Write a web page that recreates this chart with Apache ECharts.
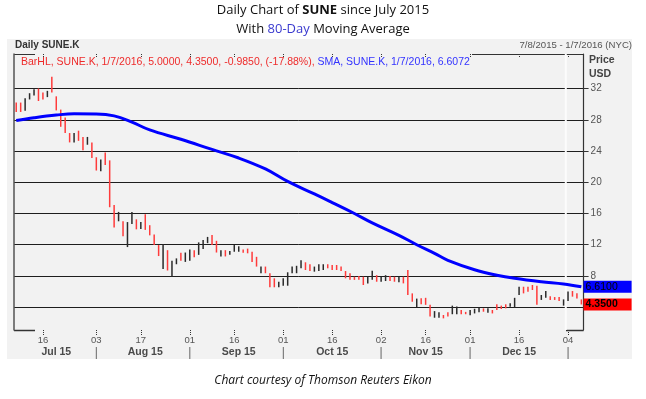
<!DOCTYPE html>
<html>
<head>
<meta charset="utf-8">
<script src="https://cdn.jsdelivr.net/npm/echarts@6/dist/echarts.min.js"></script>
<style>
  html, body { margin: 0; padding: 0; background: #fff; }
  #chart { width: 646px; height: 399px; }
</style>
</head>
<body>
<div id="chart"></div>
<script>
'use strict';

// trading days shown on the chart
var days = [
  '2015-07-08','2015-07-09','2015-07-10','2015-07-13','2015-07-14','2015-07-15','2015-07-16','2015-07-17','2015-07-20','2015-07-21',
  '2015-07-22','2015-07-23','2015-07-24','2015-07-27','2015-07-28','2015-07-29','2015-07-30','2015-07-31',
  '2015-08-03','2015-08-04','2015-08-05','2015-08-06','2015-08-07','2015-08-10','2015-08-11','2015-08-12','2015-08-13','2015-08-14',
  '2015-08-17','2015-08-18','2015-08-19','2015-08-20','2015-08-21','2015-08-24','2015-08-25','2015-08-26','2015-08-27','2015-08-28','2015-08-31',
  '2015-09-01','2015-09-02','2015-09-03','2015-09-04','2015-09-08','2015-09-09','2015-09-10','2015-09-11','2015-09-14','2015-09-15',
  '2015-09-16','2015-09-17','2015-09-18','2015-09-21','2015-09-22','2015-09-23','2015-09-24','2015-09-25','2015-09-28','2015-09-29','2015-09-30',
  '2015-10-01','2015-10-02','2015-10-05','2015-10-06','2015-10-07','2015-10-08','2015-10-09','2015-10-12','2015-10-13','2015-10-14',
  '2015-10-15','2015-10-16','2015-10-19','2015-10-20','2015-10-21','2015-10-22','2015-10-23','2015-10-26','2015-10-27','2015-10-28','2015-10-29','2015-10-30',
  '2015-11-02','2015-11-03','2015-11-04','2015-11-05','2015-11-06','2015-11-09','2015-11-10','2015-11-11','2015-11-12','2015-11-13',
  '2015-11-16','2015-11-17','2015-11-18','2015-11-19','2015-11-20','2015-11-23','2015-11-24','2015-11-25','2015-11-27','2015-11-30',
  '2015-12-01','2015-12-02','2015-12-03','2015-12-04','2015-12-07','2015-12-08','2015-12-09','2015-12-10','2015-12-11','2015-12-14',
  '2015-12-15','2015-12-16','2015-12-17','2015-12-18','2015-12-21','2015-12-22','2015-12-23','2015-12-24','2015-12-28','2015-12-29','2015-12-30','2015-12-31',
  '2016-01-04','2016-01-05','2016-01-06','2016-01-07'
];

var highs = [
  30.2, 30.2, 30.75, 31.4, 31.9, 32.0, 31.5, 31.7, 33.5, 31.0,
  29.3, 28.3, 26.3, 26.3, 26.6, 25.8, 25.8, 25.1, 23.2, 22.9,
  23.8, 22.8, 17.1, 16.2, 15.0, 14.9, 16.2, 15.25, 14.9, 15.9,
  14.5, 13.3, 11.96, 12.1, 11.3, 9.95, 10.25, 10.97, 11.0, 11.4,
  11.3, 12.3, 12.6, 13.0, 13.25, 12.5, 11.3, 11.3, 11.2, 11.96,
  11.8, 11.4, 11.5, 11.1, 10.45, 9.2, 9.2, 8.35, 7.7, 7.26,
  7.7, 8.47, 9.2, 9.3, 10.0, 9.75, 9.5, 9.2, 9.5, 9.5,
  9.5, 9.4, 9.4, 9.2, 8.63, 8.35, 7.9, 8.0, 7.9, 7.9,
  8.67, 8.1, 7.9, 8.1, 8.0, 7.9, 7.9, 7.9, 8.76, 5.77,
  5.1, 5.14, 5.2, 4.3, 3.5, 3.35, 3.0, 3.35, 4.2, 4.1,
  3.64, 3.4, 3.64, 3.8, 3.93, 3.85, 3.85, 3.64, 4.37, 4.2,
  4.37, 4.5, 5.2, 6.62, 6.62, 6.62, 6.84, 6.75, 5.56, 6.07,
  5.4, 5.3, 5.3, 5.0, 6.0, 6.07, 5.8, 5.0
];

var lows = [
  29.0, 29.0, 29.15, 30.6, 31.1, 30.4, 30.6, 30.9, 31.5, 29.2,
  27.1, 26.3, 25.1, 25.1, 25.3, 24.1, 24.8, 23.1, 21.5, 21.4,
  22.2, 16.8, 14.2, 15.0, 13.1, 11.7, 14.65, 13.97, 14.0, 13.9,
  13.2, 11.96, 10.55, 8.9, 8.7, 7.9, 9.5, 9.95, 9.8, 9.95,
  10.4, 10.7, 11.45, 12.2, 11.96, 11.0, 10.5, 10.5, 10.7, 11.1,
  11.1, 10.97, 10.9, 9.8, 9.2, 8.35, 8.35, 6.55, 6.55, 6.55,
  6.75, 6.75, 8.35, 8.35, 8.98, 8.76, 8.63, 8.55, 8.63, 8.76,
  8.98, 8.76, 8.76, 8.63, 7.7, 7.5, 7.5, 7.5, 6.84, 7.05,
  7.5, 7.26, 7.26, 7.35, 7.35, 7.26, 7.2, 7.05, 5.56, 4.7,
  4.0, 4.37, 4.3, 2.8, 2.65, 2.65, 2.57, 2.8, 3.1, 3.1,
  3.1, 3.1, 2.96, 3.2, 3.35, 3.42, 3.3, 3.2, 3.64, 3.77,
  3.85, 4.07, 3.98, 5.56, 5.77, 5.98, 6.2, 4.3, 4.93, 5.2,
  4.93, 4.93, 4.8, 4.2, 4.8, 5.35, 5.1, 4.35
];

// 1 = up day (black bar), 0 = down day (red bar)
var upDay = [
  0,0,1,1,1,0,0,1,0,0, 0,0,0,1,0,0,1,0,0,1,
  0,0,0,1,0,1,1,0,1,0, 0,0,0,1,0,1,1,0,1,1,
  0,1,1,1,0,0,1,0,1,1, 1,0,0,0,0,1,0,0,0,1,
  1,1,1,1,1,0,0,1,1,1, 0,0,0,0,0,0,0,0,0,1,
  1,0,1,1,0,0,1,0,0,0, 1,0,0,0,1,1,0,0,1,1,
  0,0,1,1,1,0,1,0,0,0, 0,1,1,1,0,0,0,0,1,1,
  0,0,0,1,1,0,0,0
];

// 80-day simple moving average
var smaDates = [
  '2015-07-08','2015-07-14','2015-07-21','2015-07-27','2015-08-03','2015-08-07','2015-08-13','2015-08-19','2015-08-28',
  '2015-09-09','2015-09-17','2015-09-25','2015-10-02','2015-10-12','2015-10-16','2015-10-23','2015-10-29',
  '2015-11-06','2015-11-12','2015-11-18','2015-11-23','2015-12-02','2015-12-09','2015-12-15','2015-12-23','2015-12-31','2016-01-07'
];
var smaValues = [
  27.9, 28.25, 28.6, 28.77, 28.75, 28.5, 27.7, 26.7, 25.5,
  24.2, 23.1, 21.7, 20.1, 18.5, 17.4, 16.0, 14.8,
  13.2, 12.0, 10.9, 10.0, 8.8, 8.1, 7.7, 7.26, 6.97, 6.6072
];

var lastBarChange = [-0.985, -17.88];
var priceTicks = [4, 8, 12, 16, 20, 24, 28, 32];
var priceLabels = [8, 12, 16, 20, 24, 28, 32];
var dayTicks = ['2015-07-16','2015-08-03','2015-08-17','2015-09-01','2015-09-16','2015-10-01',
  '2015-10-16','2015-11-02','2015-11-16','2015-12-01','2015-12-16','2016-01-04'];
var monthStarts = ['2015-08-03','2015-09-01','2015-10-01','2015-11-02','2015-12-01','2016-01-04'];
var monthNames = {
  '2015-07-21': 'Jul 15', '2015-08-18': 'Aug 15', '2015-09-17': 'Sep 15',
  '2015-10-16': 'Oct 15', '2015-11-16': 'Nov 15', '2015-12-16': 'Dec 15'
};
var yearStart = '2016-01-04';

var FONT = 'Liberation Sans';
var last = days.length - 1;

function isDayTick(i, v) { return dayTicks.indexOf(v) > -1; }

var legendText =
  '{r|BarHL, SUNE.K, 1/7/2016, ' + highs[last].toFixed(4) + ', ' + lows[last].toFixed(4) + ', ' +
  lastBarChange[0].toFixed(4) + ', (' + lastBarChange[1].toFixed(2) + '%),}' +
  '{b| SMA, SUNE.K, 1/7/2016, ' + smaValues[smaValues.length - 1].toFixed(4) + '}';

// value tag shown at the right end of a series
function endTag(value, bg, weight) {
  return {
    silent: true, symbol: 'none',
    lineStyle: {color: 'rgba(0,0,0,0)', width: 1, type: 'solid'},
    data: [{yAxis: value}],
    label: {show: true, position: 'end', distance: 0,
      formatter: function (p) { return Number(p.value).toFixed(4); },
      backgroundColor: bg, color: '#000', fontFamily: FONT, fontSize: 10.5, fontWeight: weight,
      padding: [1, 2, 1, 2], width: 44, lineHeight: 10}
  };
}

var chart = echarts.init(document.getElementById('chart'), null, {renderer: 'canvas'});

var option = {
  backgroundColor: '#fff',
  animation: false,
  title: [
    {
      text: '{a|Daily Chart of }{b|SUNE}{a| since July 2015}',
      left: 'center', top: 2, padding: 0,
      textStyle: {
        fontWeight: 'normal',
        rich: {
          a: {fontFamily: 'Open Sans', fontSize: 13, fontWeight: 'normal', color: '#111', lineHeight: 16},
          b: {fontFamily: 'Open Sans', fontSize: 13, fontWeight: 'bold', color: '#111', lineHeight: 16}
        }
      }
    },
    {
      text: '{a|With }{c|80-Day}{a| Moving Average}',
      left: 'center', top: 21, padding: 0,
      textStyle: {
        fontWeight: 'normal',
        rich: {
          a: {fontFamily: 'Open Sans', fontSize: 13, fontWeight: 'normal', color: '#111', lineHeight: 16},
          c: {fontFamily: 'Open Sans', fontSize: 13, fontWeight: 'normal', color: '#3a3acf', lineHeight: 16}
        }
      }
    },
    {
      text: 'Daily SUNE.K', left: 15, top: 39, padding: 0,
      textStyle: {fontFamily: FONT, fontSize: 10, fontWeight: 'bold', color: '#333', lineHeight: 12}
    },
    {
      text: '7/8/2015 - 1/7/2016 (NYC)', right: 14, top: 39, padding: 0,
      textStyle: {fontFamily: FONT, fontSize: 9.6, fontWeight: 'normal', color: '#555', lineHeight: 12}
    },
    {
      text: legendText, left: 21, top: 56, padding: 0,
      textStyle: {
        fontWeight: 'normal',
        rich: {
          r: {fontFamily: FONT, fontSize: 10.5, fontWeight: 'normal', color: '#ee2b2b', lineHeight: 12},
          b: {fontFamily: FONT, fontSize: 10.5, fontWeight: 'normal', color: '#3333ff', lineHeight: 12}
        }
      }
    },
    {
      text: 'Price\nUSD', left: 589, top: 53, padding: 0,
      textStyle: {fontFamily: FONT, fontSize: 10.5, fontWeight: 'bold', color: '#444', lineHeight: 14}
    },
    {
      text: 'Chart courtesy of Thomson Reuters Eikon', left: 'center', top: 373, padding: 0,
      textStyle: {fontFamily: 'Open Sans', fontSize: 12, fontStyle: 'italic', fontWeight: 'normal', color: '#111', lineHeight: 16}
    }
  ],
  graphic: [
    {type: 'rect', z: -100, shape: {x: 7, y: 39, width: 625, height: 320}, style: {fill: '#f2f2f2'}},
    {type: 'line', shape: {x1: 14, y1: 54.5, x2: 35, y2: 54.5}, style: {stroke: '#333', lineWidth: 1}},
    {type: 'line', shape: {x1: 472, y1: 54.5, x2: 583.6, y2: 54.5}, style: {stroke: '#333', lineWidth: 1}},
    {type: 'line', shape: {x1: 14, y1: 330.5, x2: 35, y2: 330.5}, style: {stroke: '#333', lineWidth: 1.5}},
    {type: 'line', shape: {x1: 566, y1: 330.5, x2: 583.6, y2: 330.5}, style: {stroke: '#333', lineWidth: 1.5}}
  ],
  grid: {left: 14, width: 569.6, top: 54, height: 276, outerBoundsMode: 'none', containLabel: false},
  xAxis: [
    {
      type: 'category', data: days, position: 'bottom', boundaryGap: true,
      axisLine: {show: false},
      axisTick: {show: true, interval: isDayTick, alignWithLabel: true, length: 5,
        lineStyle: {color: '#333', type: [1, 1]}},
      axisLabel: {interval: isDayTick, formatter: function (v) { return v.slice(8); },
        fontFamily: FONT, fontSize: 9.5, color: '#555', margin: 5},
      splitLine: {show: false}
    },
    {
      type: 'category', data: days, position: 'bottom', offset: 12, boundaryGap: true,
      axisLine: {show: false}, axisTick: {show: false}, splitLine: {show: false},
      axisLabel: {
        interval: function (i, v) { return monthStarts.indexOf(v) > -1 || !!monthNames[v]; },
        formatter: function (v) { return monthNames[v] ? '{m|' + monthNames[v] + '}' : '{s||}'; },
        margin: 5,
        rich: {
          m: {fontFamily: FONT, fontSize: 10.5, fontWeight: 'bold', color: '#4a4a4a'},
          s: {fontFamily: FONT, fontSize: 12, color: '#666'}
        }
      }
    },
    {
      type: 'category', data: days, position: 'top', boundaryGap: true,
      axisLine: {show: false}, axisLabel: {show: false}, splitLine: {show: false},
      axisTick: {show: true, inside: true, interval: isDayTick, alignWithLabel: true, length: 4,
        lineStyle: {color: '#333', type: [1, 1]}}
    }
  ],
  yAxis: [
    {
      type: 'value', position: 'right', min: 1.08, max: 36.42,
      axisLine: {show: true, lineStyle: {color: '#333', width: 1.2}},
      axisTick: {show: true, length: 5, customValues: priceTicks, lineStyle: {color: '#333'}},
      axisLabel: {customValues: priceLabels, fontFamily: FONT, fontSize: 10, color: '#555', margin: 7},
      splitLine: {show: true, lineStyle: {color: '#1e1e1e', width: 1}}
    },
    {
      type: 'value', position: 'left', min: 1.08, max: 36.42,
      axisLine: {show: true, onZero: false, lineStyle: {color: '#555', width: 1.5}},
      axisTick: {show: false}, axisLabel: {show: false}, splitLine: {show: false}
    }
  ],
  series: [
    {
      name: 'yearBreak', type: 'custom', xAxisIndex: 0, yAxisIndex: 0, z: 1,
      data: [[yearStart]], encode: {x: 0},
      renderItem: function (params, api) {
        var x = api.coord([api.value(0), 10])[0] - api.size([1, 0])[0] / 2;
        var cs = params.coordSys;
        return {type: 'line', shape: {x1: x, y1: cs.y, x2: x, y2: cs.y + cs.height},
          style: {stroke: '#fcfcfc', lineWidth: 2}};
      }
    },
    {
      name: 'BarHL', type: 'custom', xAxisIndex: 0, yAxisIndex: 0, z: 3,
      data: days.map(function (d, i) { return [i, highs[i], lows[i], upDay[i]]; }),
      encode: {x: 0, y: [1, 2]},
      renderItem: function (params, api) {
        var top = api.coord([api.value(0), api.value(1)]);
        var bot = api.coord([api.value(0), api.value(2)]);
        return {type: 'line', shape: {x1: top[0], y1: top[1], x2: bot[0], y2: bot[1]},
          style: {stroke: api.value(3) ? '#2a2a2a' : '#ff3b3b', lineWidth: 1.5}};
      }
    },
    {
      name: 'SMA', type: 'line', xAxisIndex: 0, yAxisIndex: 0, z: 4,
      data: smaDates.map(function (d, i) { return [d, smaValues[i]]; }),
      smooth: 0.4, showSymbol: false, symbol: 'none',
      lineStyle: {color: '#0000ff', width: 3}
    },
    {
      name: 'SMA tag', type: 'line', xAxisIndex: 0, yAxisIndex: 0, z: 5,
      data: [], markLine: endTag(smaValues[smaValues.length - 1], '#0000ff', 'normal')
    },
    {
      name: 'BarHL tag', type: 'line', xAxisIndex: 0, yAxisIndex: 0, z: 5,
      data: [], markLine: endTag(lows[last], '#ff0000', 'bold')
    }
  ]
};

chart.setOption(option);
</script>
</body>
</html>
